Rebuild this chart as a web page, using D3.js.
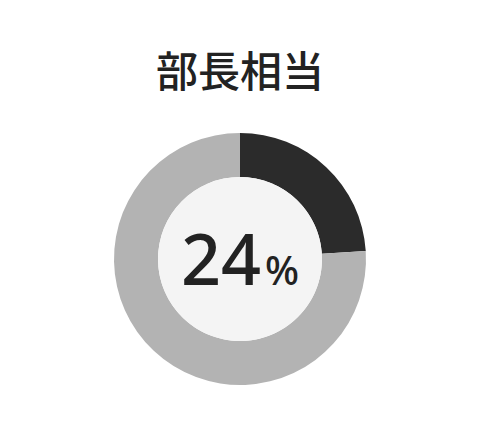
<!DOCTYPE html>
<html>
<head>
<meta charset="utf-8">
<script src="https://cdn.jsdelivr.net/npm/d3@7"></script>
<style>
  body { margin: 0; background: #fff; }
</style>
</head>
<body>
<div id="chart"></div>
<script>
let w = 480;
let h = 433;

// data
let title = "部長相当";
let categories = ["部長相当", "その他"];
let values = [24, 76];
let colors = ["#2b2b2b", "#b3b3b3"];

let cx = 240, cy = 259;
let outerR = 126, innerR = 82;

let viz = d3.select("#chart")
  .append("svg")
    .attr("width", w)
    .attr("height", h);

viz.append("text")
  .attr("x", w / 2)
  .attr("y", 87)
  .attr("text-anchor", "middle")
  .attr("font-family", "Noto Sans CJK JP")
  .attr("font-weight", 500)
  .attr("font-size", 42)
  .attr("fill", "#222")
  .text(title);

let pie = d3.pie().sort(null).value(d => d);
let arc = d3.arc().innerRadius(innerR).outerRadius(outerR);

let g = viz.append("g").attr("transform", `translate(${cx},${cy})`);

g.selectAll("path")
  .data(pie(values))
  .join("path")
    .attr("d", arc)
    .attr("fill", (d, i) => colors[i]);

g.append("circle")
  .attr("r", innerR)
  .attr("fill", "#f4f4f4");

let label = g.append("text")
  .attr("x", 0)
  .attr("y", 26)
  .attr("text-anchor", "middle")
  .attr("font-family", "Noto Sans")
  .attr("font-weight", 500)
  .attr("fill", "#222");

label.append("tspan")
  .attr("font-size", 70)
  .text(values[0]);

label.append("tspan")
  .attr("font-size", 40)
  .attr("dx", 4)
  .text("%");
</script>
</body>
</html>
